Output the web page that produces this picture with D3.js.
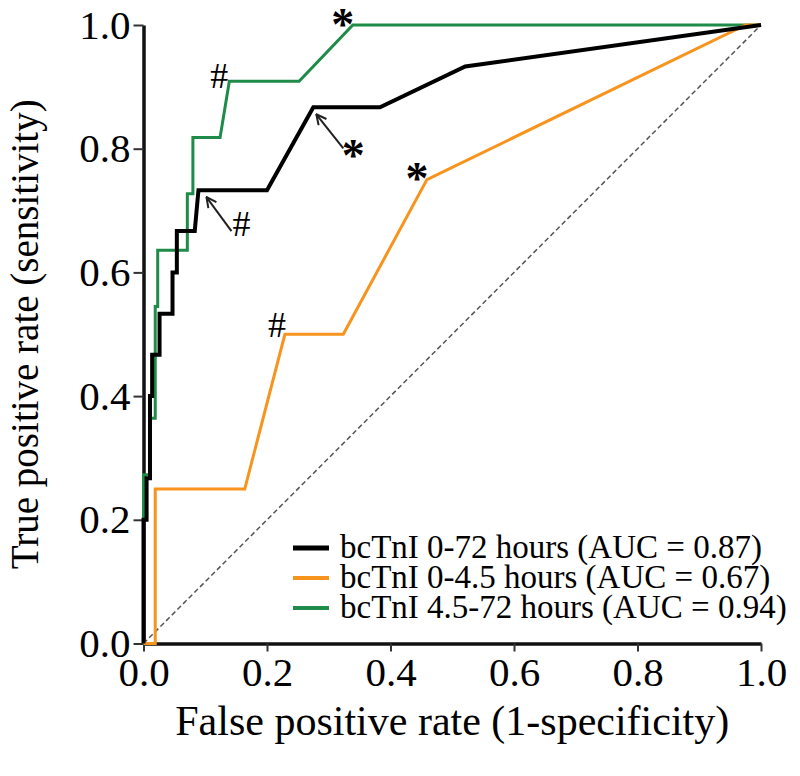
<!DOCTYPE html>
<html><head><meta charset="utf-8">
<script src="https://cdn.jsdelivr.net/npm/d3@7"></script>
<style>body{margin:0;background:#fff} svg{display:block}</style>
</head><body>
<svg id="c" width="800" height="776"></svg>
<script>
// ---- data ----
const seriesNames = ["bcTnI 0-72 hours (AUC = 0.87)", "bcTnI 0-4.5 hours (AUC = 0.67)", "bcTnI 4.5-72 hours (AUC = 0.94)"];
const fpr0to72 = [0, 0, 0.005, 0.005, 0.0105, 0.0105, 0.014, 0.014, 0.026, 0.026, 0.047, 0.047, 0.054, 0.054, 0.083, 0.089, 0.2, 0.275, 0.383, 0.521, 1];
const tpr0to72 = [0, 0.2, 0.2, 0.267, 0.267, 0.4, 0.4, 0.467, 0.467, 0.533, 0.533, 0.6, 0.6, 0.667, 0.667, 0.733, 0.733, 0.867, 0.867, 0.933, 1];
const fpr0to45 = [0, 0.019, 0.019, 0.164, 0.229, 0.3236, 0.459, 0.975, 1];
const tpr0to45 = [0, 0, 0.25, 0.25, 0.5, 0.5, 0.75, 1, 1];
const fpr45to72 = [0, 0, 0.01, 0.01, 0.019, 0.019, 0.023, 0.023, 0.071, 0.071, 0.08, 0.08, 0.124, 0.139, 0.252, 0.339, 1];
const tpr45to72 = [0, 0.273, 0.273, 0.364, 0.364, 0.545, 0.545, 0.636, 0.636, 0.727, 0.727, 0.818, 0.818, 0.909, 0.909, 1, 1];
const tickValues = [0, 0.2, 0.4, 0.6, 0.8, 1.0];
const tickLabels = ["0.0", "0.2", "0.4", "0.6", "0.8", "1.0"];
const xTitle = "False positive rate (1-specificity)";
const yTitle = "True positive rate (sensitivity)";
// annotation anchors (series index, fpr, tpr, mark)
const annSeries = [2, 2, 0, 0, 1, 1];
const annFpr = [0.339, 0.139, 0.275, 0.089, 0.459, 0.229];
const annTpr = [1.0, 0.909, 0.867, 0.733, 0.75, 0.5];
const annMark = ["*", "#", "*", "#", "*", "#"];

// ---- styles / layout ----
const colors = ["#000000", "#f7941d", "#1e8b48"];
const widths = [4, 3, 3];
const font = "'Liberation Serif','Times New Roman',serif";
// pixel placement of each annotation relative to its anchor: mark center dx,dy; arrow: tip dx,dy and tail dx,dy
const annStyle = [
  {dx: -10, dy: -6},
  {dx: -10, dy: -6},
  {dx: 40, dy: 43, arrow: true, tip: [3, 7], tail: [30, 41]},
  {dx: 43, dy: 33, arrow: true, tip: [8, 7], tail: [33, 41]},
  {dx: -10, dy: -7},
  {dx: -8, dy: -10}
];

const svg = d3.select("#c");
const x = d3.scaleLinear().domain([0, 1]).range([143.5, 761]);
const y = d3.scaleLinear().domain([0, 1]).range([643.5, 25]);

// axes
const yAxis = d3.axisLeft(y).tickValues(tickValues).tickFormat((d, i) => tickLabels[i]).tickSize(10).tickSizeOuter(0).tickPadding(3);
const xAxis = d3.axisBottom(x).tickValues(tickValues).tickFormat((d, i) => tickLabels[i]).tickSize(8).tickSizeOuter(0).tickPadding(5);
const gy = svg.append("g").attr("transform", `translate(${x(0)},0)`).call(yAxis);
const gx = svg.append("g").attr("transform", `translate(0,${y(0)})`).call(xAxis);
[gx, gy].forEach(g => {
  g.select(".domain").attr("stroke", "#111").attr("stroke-width", 3.5);
  g.selectAll(".tick line").attr("stroke", "#333").attr("stroke-width", 2);
  g.selectAll(".tick text").attr("fill", "#000").style("font-family", font).style("font-size", "41px");
});

// diagonal reference
svg.append("line").attr("x1", x(0)).attr("y1", y(0)).attr("x2", x(1)).attr("y2", y(1))
  .attr("stroke", "#555").attr("stroke-width", 1.5).attr("stroke-dasharray", "5,3");

// curves
const seriesF = [fpr0to72, fpr0to45, fpr45to72];
const seriesT = [tpr0to72, tpr0to45, tpr45to72];
const line = d3.line().x(d => x(d[0])).y(d => y(d[1]));
[2, 1, 0].forEach(s => {
  const pts = seriesF[s].map((f, i) => [f, seriesT[s][i]]);
  svg.append("path").datum(pts).attr("d", line).attr("fill", "none")
    .attr("stroke", colors[s]).attr("stroke-width", widths[s]).attr("stroke-linejoin", "miter");
});

// arrow marker
svg.append("defs").append("marker").attr("id", "ah").attr("viewBox", "0 0 12 12")
  .attr("refX", 11).attr("refY", 6).attr("markerWidth", 12).attr("markerHeight", 12)
  .attr("markerUnits", "userSpaceOnUse").attr("orient", "auto")
  .append("path").attr("d", "M1,1 L11,6 L1,11").attr("fill", "none").attr("stroke", "#222").attr("stroke-width", 2);

// annotations
annMark.forEach((m, i) => {
  const px = x(annFpr[i]), py = y(annTpr[i]);
  const st = annStyle[i];
  if (st.arrow) {
    svg.append("line").attr("x1", px + st.tail[0]).attr("y1", py + st.tail[1])
      .attr("x2", px + st.tip[0]).attr("y2", py + st.tip[1])
      .attr("stroke", "#222").attr("stroke-width", 2).attr("marker-end", "url(#ah)");
  }
  const isStar = m === "*";
  svg.append("text").attr("x", px + st.dx).attr("y", py + st.dy)
    .attr("text-anchor", "middle")
    .attr("dy", isStar ? "0.46em" : "0.35em")
    .style("font-family", font).style("font-size", isStar ? "46px" : "36px")
    .style("font-weight", isStar ? "bold" : "normal")
    .text(m);
});

// legend
const legY = [548, 578, 608];
seriesNames.forEach((n, i) => {
  svg.append("line").attr("x1", 293).attr("x2", 329).attr("y1", legY[i]).attr("y2", legY[i])
    .attr("stroke", colors[i]).attr("stroke-width", i === 0 ? 5 : 4);
  svg.append("text").attr("x", 340).attr("y", legY[i] + 10)
    .style("font-family", font).style("font-size", "33px").text(n);
});

// titles
svg.append("text").attr("x", (x(0) + x(1)) / 2).attr("y", 735).attr("text-anchor", "middle")
  .style("font-family", font).style("font-size", "42px").text(xTitle);
svg.append("text").attr("transform", `translate(38,${(y(0) + y(1)) / 2}) rotate(-90)`).attr("text-anchor", "middle")
  .style("font-family", font).style("font-size", "39px").text(yTitle);
</script>
</body></html>
